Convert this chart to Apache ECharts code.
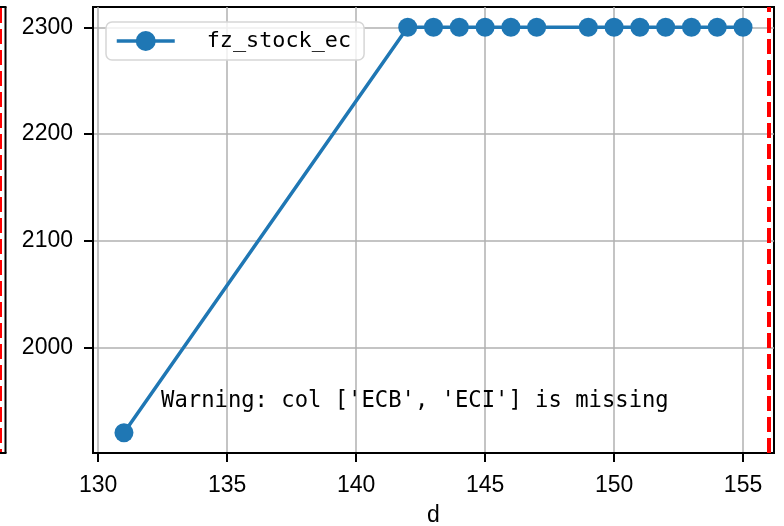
<!DOCTYPE html>
<html>
<head>
<meta charset="utf-8">
<script src="https://cdn.jsdelivr.net/npm/echarts@6/dist/echarts.min.js"></script>
<style>html,body{margin:0;padding:0;background:#fff}#c{width:784px;height:526px}</style>
</head>
<body>
<div id="c"></div>
<script>
const seriesName = 'fz_stock_ec';
const xValues = [131, 142, 143, 144, 145, 146, 147, 149, 150, 151, 152, 153, 154, 155];
const yValues = [1920, 2300, 2300, 2300, 2300, 2300, 2300, 2300, 2300, 2300, 2300, 2300, 2300, 2300];
const xTicks = [130, 135, 140, 145, 150, 155];
const yTicks = [2000, 2100, 2200, 2300];
const xRange = [129.8, 156.2];
const yRange = [1901, 2319];
const vLineX = 156;
const xLabel = 'd';
const warningText = "Warning: col ['ECB', 'ECI'] is missing";

const G = {left: 93, right: 10, top: 7, bottom: 73};
const W = 784, H = 526;
const gw = W - G.left - G.right, gh = H - G.top - G.bottom;

const tickFont = {fontFamily: 'Liberation Sans', fontSize: 23, color: '#000'};
const mono = 'DejaVu Sans Mono';

const chart = echarts.init(document.getElementById('c'), null, {renderer: 'canvas'});
chart.setOption({
  animation: false,
  backgroundColor: '#fff',
  grid: {left: G.left, right: G.right, top: G.top, bottom: G.bottom, show: true, borderColor: '#000', borderWidth: 2,
    containLabel: false, outerBoundsMode: 'none'},
  xAxis: {
    type: 'value', min: xRange[0], max: xRange[1],
    name: xLabel, nameLocation: 'middle', nameGap: 51,
    nameTextStyle: tickFont,
    axisLine: {show: true, onZero: false, lineStyle: {color: '#000', width: 2}},
    axisTick: {show: true, inside: false, length: 9, lineStyle: {color: '#000', width: 2}, customValues: xTicks},
    axisLabel: Object.assign({margin: 21, customValues: xTicks, formatter: v => String(v)}, tickFont),
    splitLine: {show: true, lineStyle: {color: '#b0b0b0', width: 1.5}}
  },
  yAxis: {
    type: 'value', min: yRange[0], max: yRange[1],
    axisLine: {show: true, onZero: false, lineStyle: {color: '#000', width: 2}},
    axisTick: {show: true, inside: false, length: 9, lineStyle: {color: '#000', width: 2}, customValues: yTicks},
    axisLabel: Object.assign({margin: 20, customValues: yTicks, formatter: v => String(v)}, tickFont),
    splitLine: {show: true, lineStyle: {color: '#b0b0b0', width: 1.5}}
  },
  legend: {
    left: 106, top: 22,
    padding: [8, 13, 8, 9],
    itemWidth: 58, itemHeight: 25,
    borderColor: '#d6d6d6', borderWidth: 1.5, borderRadius: 6,
    backgroundColor: 'rgba(255,255,255,0.8)',
    lineStyle: {width: 3.5},
    textStyle: {fontFamily: mono, fontSize: 21.8, color: '#000', padding: [0, 0, 0, 27]},
    data: [seriesName]
  },
  series: [{
    name: seriesName,
    type: 'line',
    data: xValues.map((x, i) => [x, yValues[i]]),
    symbol: 'circle', symbolSize: 19,
    showAllSymbol: true,
    lineStyle: {color: '#1f77b4', width: 3.5},
    itemStyle: {color: '#1f77b4'},
    z: 3,
    markLine: {
      silent: true, symbol: ['none', 'none'], label: {show: false},
      lineStyle: {color: '#ff0000', width: 4, type: [15, 6]},
      data: [{xAxis: vLineX}]
    }
  }],
  graphic: [
    {type: 'line', shape: {x1: 0, y1: G.top + 1, x2: 0, y2: H - G.bottom}, style: {stroke: '#ff0000', lineWidth: 4, lineDash: [15, 6]}, z: 10},
    {type: 'line', shape: {x1: 5.5, y1: G.top, x2: 5.5, y2: H - G.bottom}, style: {stroke: '#000', lineWidth: 2}, z: 10},
    {type: 'line', shape: {x1: 0, y1: G.top, x2: 6.5, y2: G.top}, style: {stroke: '#000', lineWidth: 2}, z: 10},
    {type: 'line', shape: {x1: 0, y1: H - G.bottom, x2: 6.5, y2: H - G.bottom}, style: {stroke: '#000', lineWidth: 2}, z: 10},
    {type: 'text', x: G.left + 0.1 * gw, y: G.top + 0.9 * gh - 7, z: 10,
      style: {text: warningText, font: '22.2px "' + mono + '"', fill: '#000', verticalAlign: 'middle', align: 'left'}}
  ]
});
</script>
</body>
</html>
